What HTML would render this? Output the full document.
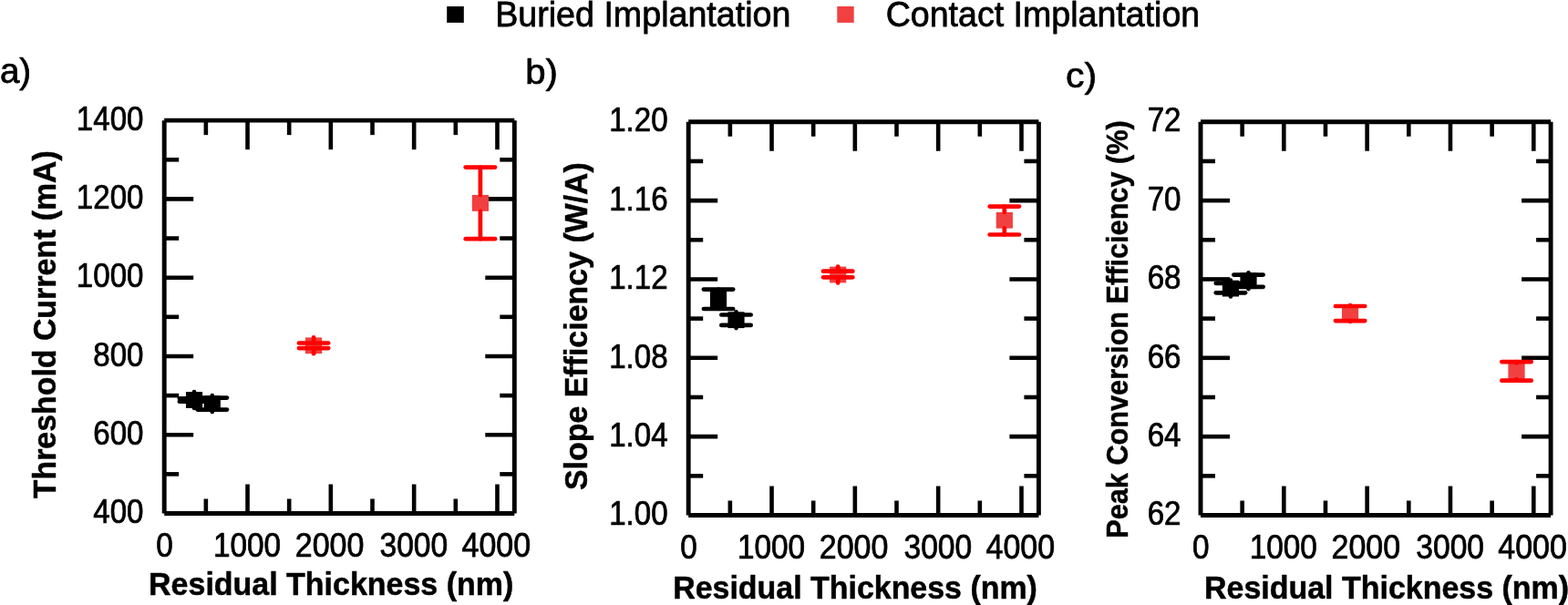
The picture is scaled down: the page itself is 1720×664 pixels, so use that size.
<!DOCTYPE html>
<html lang="en">
<head>
<meta charset="utf-8">
<title>Residual Thickness figure</title>
<style>
html,body{margin:0;padding:0;background:#fff;}
body{width:1720px;height:664px;overflow:hidden;}
svg{display:block;}
svg text{font-family:"Liberation Sans", sans-serif;white-space:pre;}
</style>
</head>
<body>
<svg width="1720" height="664" viewBox="0 0 1720 664">
<rect width="1720" height="664" fill="#fff"/>
<g>
<line x1="271.52" y1="563.50" x2="271.52" y2="531.50" stroke="#000" stroke-width="4.6" stroke-linecap="butt"/>
<line x1="271.52" y1="132.15" x2="271.52" y2="164.15" stroke="#000" stroke-width="4.6" stroke-linecap="butt"/>
<line x1="362.84" y1="563.50" x2="362.84" y2="531.50" stroke="#000" stroke-width="4.6" stroke-linecap="butt"/>
<line x1="362.84" y1="132.15" x2="362.84" y2="164.15" stroke="#000" stroke-width="4.6" stroke-linecap="butt"/>
<line x1="454.16" y1="563.50" x2="454.16" y2="531.50" stroke="#000" stroke-width="4.6" stroke-linecap="butt"/>
<line x1="454.16" y1="132.15" x2="454.16" y2="164.15" stroke="#000" stroke-width="4.6" stroke-linecap="butt"/>
<line x1="545.48" y1="563.50" x2="545.48" y2="531.50" stroke="#000" stroke-width="4.6" stroke-linecap="butt"/>
<line x1="545.48" y1="132.15" x2="545.48" y2="164.15" stroke="#000" stroke-width="4.6" stroke-linecap="butt"/>
<line x1="225.86" y1="563.50" x2="225.86" y2="547.50" stroke="#000" stroke-width="4.6" stroke-linecap="butt"/>
<line x1="225.86" y1="132.15" x2="225.86" y2="148.15" stroke="#000" stroke-width="4.6" stroke-linecap="butt"/>
<line x1="317.18" y1="563.50" x2="317.18" y2="547.50" stroke="#000" stroke-width="4.6" stroke-linecap="butt"/>
<line x1="317.18" y1="132.15" x2="317.18" y2="148.15" stroke="#000" stroke-width="4.6" stroke-linecap="butt"/>
<line x1="408.50" y1="563.50" x2="408.50" y2="547.50" stroke="#000" stroke-width="4.6" stroke-linecap="butt"/>
<line x1="408.50" y1="132.15" x2="408.50" y2="148.15" stroke="#000" stroke-width="4.6" stroke-linecap="butt"/>
<line x1="499.82" y1="563.50" x2="499.82" y2="547.50" stroke="#000" stroke-width="4.6" stroke-linecap="butt"/>
<line x1="499.82" y1="132.15" x2="499.82" y2="148.15" stroke="#000" stroke-width="4.6" stroke-linecap="butt"/>
<line x1="180.20" y1="477.23" x2="212.20" y2="477.23" stroke="#000" stroke-width="4.6" stroke-linecap="butt"/>
<line x1="564.30" y1="477.23" x2="532.30" y2="477.23" stroke="#000" stroke-width="4.6" stroke-linecap="butt"/>
<line x1="180.20" y1="390.96" x2="212.20" y2="390.96" stroke="#000" stroke-width="4.6" stroke-linecap="butt"/>
<line x1="564.30" y1="390.96" x2="532.30" y2="390.96" stroke="#000" stroke-width="4.6" stroke-linecap="butt"/>
<line x1="180.20" y1="304.69" x2="212.20" y2="304.69" stroke="#000" stroke-width="4.6" stroke-linecap="butt"/>
<line x1="564.30" y1="304.69" x2="532.30" y2="304.69" stroke="#000" stroke-width="4.6" stroke-linecap="butt"/>
<line x1="180.20" y1="218.42" x2="212.20" y2="218.42" stroke="#000" stroke-width="4.6" stroke-linecap="butt"/>
<line x1="564.30" y1="218.42" x2="532.30" y2="218.42" stroke="#000" stroke-width="4.6" stroke-linecap="butt"/>
<line x1="180.20" y1="520.37" x2="196.20" y2="520.37" stroke="#000" stroke-width="4.6" stroke-linecap="butt"/>
<line x1="564.30" y1="520.37" x2="548.30" y2="520.37" stroke="#000" stroke-width="4.6" stroke-linecap="butt"/>
<line x1="180.20" y1="434.10" x2="196.20" y2="434.10" stroke="#000" stroke-width="4.6" stroke-linecap="butt"/>
<line x1="564.30" y1="434.10" x2="548.30" y2="434.10" stroke="#000" stroke-width="4.6" stroke-linecap="butt"/>
<line x1="180.20" y1="347.82" x2="196.20" y2="347.82" stroke="#000" stroke-width="4.6" stroke-linecap="butt"/>
<line x1="564.30" y1="347.82" x2="548.30" y2="347.82" stroke="#000" stroke-width="4.6" stroke-linecap="butt"/>
<line x1="180.20" y1="261.56" x2="196.20" y2="261.56" stroke="#000" stroke-width="4.6" stroke-linecap="butt"/>
<line x1="564.30" y1="261.56" x2="548.30" y2="261.56" stroke="#000" stroke-width="4.6" stroke-linecap="butt"/>
<line x1="180.20" y1="175.28" x2="196.20" y2="175.28" stroke="#000" stroke-width="4.6" stroke-linecap="butt"/>
<line x1="564.30" y1="175.28" x2="548.30" y2="175.28" stroke="#000" stroke-width="4.6" stroke-linecap="butt"/>
<line x1="180.20" y1="132.15" x2="564.30" y2="132.15" stroke="#000" stroke-width="4.9" stroke-linecap="butt"/>
<line x1="180.20" y1="563.50" x2="564.30" y2="563.50" stroke="#000" stroke-width="4.9" stroke-linecap="butt"/>
<line x1="180.20" y1="132.15" x2="180.20" y2="563.50" stroke="#000" stroke-width="4.9" stroke-linecap="butt"/>
<line x1="564.30" y1="132.15" x2="564.30" y2="563.50" stroke="#000" stroke-width="4.9" stroke-linecap="butt"/>
<rect x="203.93" y="430.10" width="18.20" height="17.80" fill="#000"/>
<line x1="213.03" y1="430.10" x2="213.03" y2="437.25" stroke="#000" stroke-width="4.7" stroke-linecap="round"/>
<line x1="196.88" y1="437.25" x2="229.18" y2="437.25" stroke="#000" stroke-width="4.7" stroke-linecap="round"/>
<line x1="213.03" y1="447.90" x2="213.03" y2="440.75" stroke="#000" stroke-width="4.7" stroke-linecap="round"/>
<line x1="196.88" y1="440.75" x2="229.18" y2="440.75" stroke="#000" stroke-width="4.7" stroke-linecap="round"/>
<rect x="223.68" y="434.20" width="18.20" height="17.80" fill="#000"/>
<line x1="232.78" y1="434.20" x2="232.78" y2="436.60" stroke="#000" stroke-width="4.7" stroke-linecap="round"/>
<line x1="216.63" y1="436.60" x2="248.93" y2="436.60" stroke="#000" stroke-width="4.7" stroke-linecap="round"/>
<line x1="232.78" y1="452.00" x2="232.78" y2="449.60" stroke="#000" stroke-width="4.7" stroke-linecap="round"/>
<line x1="216.63" y1="449.60" x2="248.93" y2="449.60" stroke="#000" stroke-width="4.7" stroke-linecap="round"/>
<rect x="334.98" y="370.40" width="18.20" height="17.80" fill="#f14040"/>
<line x1="344.08" y1="370.40" x2="344.08" y2="376.50" stroke="#ff0000" stroke-width="4.7" stroke-linecap="round"/>
<line x1="327.93" y1="376.50" x2="360.23" y2="376.50" stroke="#ff0000" stroke-width="4.7" stroke-linecap="round"/>
<line x1="344.08" y1="388.20" x2="344.08" y2="382.10" stroke="#ff0000" stroke-width="4.7" stroke-linecap="round"/>
<line x1="327.93" y1="382.10" x2="360.23" y2="382.10" stroke="#ff0000" stroke-width="4.7" stroke-linecap="round"/>
<rect x="517.80" y="214.00" width="18.20" height="17.80" fill="#f14040"/>
<line x1="526.90" y1="214.00" x2="526.90" y2="183.60" stroke="#ff0000" stroke-width="4.7" stroke-linecap="round"/>
<line x1="510.75" y1="183.60" x2="543.05" y2="183.60" stroke="#ff0000" stroke-width="4.7" stroke-linecap="round"/>
<line x1="526.90" y1="231.80" x2="526.90" y2="262.20" stroke="#ff0000" stroke-width="4.7" stroke-linecap="round"/>
<line x1="510.75" y1="262.20" x2="543.05" y2="262.20" stroke="#ff0000" stroke-width="4.7" stroke-linecap="round"/>
<line x1="846.52" y1="565.50" x2="846.52" y2="533.50" stroke="#000" stroke-width="4.6" stroke-linecap="butt"/>
<line x1="846.52" y1="133.75" x2="846.52" y2="165.75" stroke="#000" stroke-width="4.6" stroke-linecap="butt"/>
<line x1="937.84" y1="565.50" x2="937.84" y2="533.50" stroke="#000" stroke-width="4.6" stroke-linecap="butt"/>
<line x1="937.84" y1="133.75" x2="937.84" y2="165.75" stroke="#000" stroke-width="4.6" stroke-linecap="butt"/>
<line x1="1029.16" y1="565.50" x2="1029.16" y2="533.50" stroke="#000" stroke-width="4.6" stroke-linecap="butt"/>
<line x1="1029.16" y1="133.75" x2="1029.16" y2="165.75" stroke="#000" stroke-width="4.6" stroke-linecap="butt"/>
<line x1="1120.48" y1="565.50" x2="1120.48" y2="533.50" stroke="#000" stroke-width="4.6" stroke-linecap="butt"/>
<line x1="1120.48" y1="133.75" x2="1120.48" y2="165.75" stroke="#000" stroke-width="4.6" stroke-linecap="butt"/>
<line x1="800.86" y1="565.50" x2="800.86" y2="549.50" stroke="#000" stroke-width="4.6" stroke-linecap="butt"/>
<line x1="800.86" y1="133.75" x2="800.86" y2="149.75" stroke="#000" stroke-width="4.6" stroke-linecap="butt"/>
<line x1="892.18" y1="565.50" x2="892.18" y2="549.50" stroke="#000" stroke-width="4.6" stroke-linecap="butt"/>
<line x1="892.18" y1="133.75" x2="892.18" y2="149.75" stroke="#000" stroke-width="4.6" stroke-linecap="butt"/>
<line x1="983.50" y1="565.50" x2="983.50" y2="549.50" stroke="#000" stroke-width="4.6" stroke-linecap="butt"/>
<line x1="983.50" y1="133.75" x2="983.50" y2="149.75" stroke="#000" stroke-width="4.6" stroke-linecap="butt"/>
<line x1="1074.82" y1="565.50" x2="1074.82" y2="549.50" stroke="#000" stroke-width="4.6" stroke-linecap="butt"/>
<line x1="1074.82" y1="133.75" x2="1074.82" y2="149.75" stroke="#000" stroke-width="4.6" stroke-linecap="butt"/>
<line x1="755.20" y1="479.15" x2="787.20" y2="479.15" stroke="#000" stroke-width="4.6" stroke-linecap="butt"/>
<line x1="1139.40" y1="479.15" x2="1107.40" y2="479.15" stroke="#000" stroke-width="4.6" stroke-linecap="butt"/>
<line x1="755.20" y1="392.80" x2="787.20" y2="392.80" stroke="#000" stroke-width="4.6" stroke-linecap="butt"/>
<line x1="1139.40" y1="392.80" x2="1107.40" y2="392.80" stroke="#000" stroke-width="4.6" stroke-linecap="butt"/>
<line x1="755.20" y1="306.45" x2="787.20" y2="306.45" stroke="#000" stroke-width="4.6" stroke-linecap="butt"/>
<line x1="1139.40" y1="306.45" x2="1107.40" y2="306.45" stroke="#000" stroke-width="4.6" stroke-linecap="butt"/>
<line x1="755.20" y1="220.10" x2="787.20" y2="220.10" stroke="#000" stroke-width="4.6" stroke-linecap="butt"/>
<line x1="1139.40" y1="220.10" x2="1107.40" y2="220.10" stroke="#000" stroke-width="4.6" stroke-linecap="butt"/>
<line x1="755.20" y1="522.32" x2="771.20" y2="522.32" stroke="#000" stroke-width="4.6" stroke-linecap="butt"/>
<line x1="1139.40" y1="522.32" x2="1123.40" y2="522.32" stroke="#000" stroke-width="4.6" stroke-linecap="butt"/>
<line x1="755.20" y1="435.97" x2="771.20" y2="435.97" stroke="#000" stroke-width="4.6" stroke-linecap="butt"/>
<line x1="1139.40" y1="435.97" x2="1123.40" y2="435.97" stroke="#000" stroke-width="4.6" stroke-linecap="butt"/>
<line x1="755.20" y1="349.62" x2="771.20" y2="349.62" stroke="#000" stroke-width="4.6" stroke-linecap="butt"/>
<line x1="1139.40" y1="349.62" x2="1123.40" y2="349.62" stroke="#000" stroke-width="4.6" stroke-linecap="butt"/>
<line x1="755.20" y1="263.28" x2="771.20" y2="263.28" stroke="#000" stroke-width="4.6" stroke-linecap="butt"/>
<line x1="1139.40" y1="263.28" x2="1123.40" y2="263.28" stroke="#000" stroke-width="4.6" stroke-linecap="butt"/>
<line x1="755.20" y1="176.93" x2="771.20" y2="176.93" stroke="#000" stroke-width="4.6" stroke-linecap="butt"/>
<line x1="1139.40" y1="176.93" x2="1123.40" y2="176.93" stroke="#000" stroke-width="4.6" stroke-linecap="butt"/>
<line x1="755.20" y1="133.75" x2="1139.40" y2="133.75" stroke="#000" stroke-width="4.9" stroke-linecap="butt"/>
<line x1="755.20" y1="565.50" x2="1139.40" y2="565.50" stroke="#000" stroke-width="4.9" stroke-linecap="butt"/>
<line x1="755.20" y1="133.75" x2="755.20" y2="565.50" stroke="#000" stroke-width="4.9" stroke-linecap="butt"/>
<line x1="1139.40" y1="133.75" x2="1139.40" y2="565.50" stroke="#000" stroke-width="4.9" stroke-linecap="butt"/>
<rect x="778.93" y="319.40" width="18.20" height="17.80" fill="#000"/>
<line x1="788.03" y1="319.40" x2="788.03" y2="317.60" stroke="#000" stroke-width="4.7" stroke-linecap="round"/>
<line x1="771.88" y1="317.60" x2="804.18" y2="317.60" stroke="#000" stroke-width="4.7" stroke-linecap="round"/>
<line x1="788.03" y1="337.20" x2="788.03" y2="339.00" stroke="#000" stroke-width="4.7" stroke-linecap="round"/>
<line x1="771.88" y1="339.00" x2="804.18" y2="339.00" stroke="#000" stroke-width="4.7" stroke-linecap="round"/>
<rect x="798.41" y="342.30" width="18.20" height="17.80" fill="#000"/>
<line x1="807.51" y1="342.30" x2="807.51" y2="345.50" stroke="#000" stroke-width="4.7" stroke-linecap="round"/>
<line x1="791.36" y1="345.50" x2="823.66" y2="345.50" stroke="#000" stroke-width="4.7" stroke-linecap="round"/>
<line x1="807.51" y1="360.10" x2="807.51" y2="356.90" stroke="#000" stroke-width="4.7" stroke-linecap="round"/>
<line x1="791.36" y1="356.90" x2="823.66" y2="356.90" stroke="#000" stroke-width="4.7" stroke-linecap="round"/>
<rect x="910.07" y="292.60" width="18.20" height="17.80" fill="#f14040"/>
<line x1="919.17" y1="292.60" x2="919.17" y2="297.70" stroke="#ff0000" stroke-width="4.7" stroke-linecap="round"/>
<line x1="903.02" y1="297.70" x2="935.32" y2="297.70" stroke="#ff0000" stroke-width="4.7" stroke-linecap="round"/>
<line x1="919.17" y1="310.40" x2="919.17" y2="304.30" stroke="#ff0000" stroke-width="4.7" stroke-linecap="round"/>
<line x1="903.02" y1="304.30" x2="935.32" y2="304.30" stroke="#ff0000" stroke-width="4.7" stroke-linecap="round"/>
<rect x="1092.71" y="232.85" width="18.20" height="17.80" fill="#f14040"/>
<line x1="1101.81" y1="232.85" x2="1101.81" y2="226.60" stroke="#ff0000" stroke-width="4.7" stroke-linecap="round"/>
<line x1="1085.66" y1="226.60" x2="1117.96" y2="226.60" stroke="#ff0000" stroke-width="4.7" stroke-linecap="round"/>
<line x1="1101.81" y1="250.65" x2="1101.81" y2="257.50" stroke="#ff0000" stroke-width="4.7" stroke-linecap="round"/>
<line x1="1085.66" y1="257.50" x2="1117.96" y2="257.50" stroke="#ff0000" stroke-width="4.7" stroke-linecap="round"/>
<line x1="1408.32" y1="565.50" x2="1408.32" y2="533.50" stroke="#000" stroke-width="4.6" stroke-linecap="butt"/>
<line x1="1408.32" y1="133.75" x2="1408.32" y2="165.75" stroke="#000" stroke-width="4.6" stroke-linecap="butt"/>
<line x1="1499.64" y1="565.50" x2="1499.64" y2="533.50" stroke="#000" stroke-width="4.6" stroke-linecap="butt"/>
<line x1="1499.64" y1="133.75" x2="1499.64" y2="165.75" stroke="#000" stroke-width="4.6" stroke-linecap="butt"/>
<line x1="1590.96" y1="565.50" x2="1590.96" y2="533.50" stroke="#000" stroke-width="4.6" stroke-linecap="butt"/>
<line x1="1590.96" y1="133.75" x2="1590.96" y2="165.75" stroke="#000" stroke-width="4.6" stroke-linecap="butt"/>
<line x1="1682.28" y1="565.50" x2="1682.28" y2="533.50" stroke="#000" stroke-width="4.6" stroke-linecap="butt"/>
<line x1="1682.28" y1="133.75" x2="1682.28" y2="165.75" stroke="#000" stroke-width="4.6" stroke-linecap="butt"/>
<line x1="1362.66" y1="565.50" x2="1362.66" y2="549.50" stroke="#000" stroke-width="4.6" stroke-linecap="butt"/>
<line x1="1362.66" y1="133.75" x2="1362.66" y2="149.75" stroke="#000" stroke-width="4.6" stroke-linecap="butt"/>
<line x1="1453.98" y1="565.50" x2="1453.98" y2="549.50" stroke="#000" stroke-width="4.6" stroke-linecap="butt"/>
<line x1="1453.98" y1="133.75" x2="1453.98" y2="149.75" stroke="#000" stroke-width="4.6" stroke-linecap="butt"/>
<line x1="1545.30" y1="565.50" x2="1545.30" y2="549.50" stroke="#000" stroke-width="4.6" stroke-linecap="butt"/>
<line x1="1545.30" y1="133.75" x2="1545.30" y2="149.75" stroke="#000" stroke-width="4.6" stroke-linecap="butt"/>
<line x1="1636.62" y1="565.50" x2="1636.62" y2="549.50" stroke="#000" stroke-width="4.6" stroke-linecap="butt"/>
<line x1="1636.62" y1="133.75" x2="1636.62" y2="149.75" stroke="#000" stroke-width="4.6" stroke-linecap="butt"/>
<line x1="1317.00" y1="479.15" x2="1349.00" y2="479.15" stroke="#000" stroke-width="4.6" stroke-linecap="butt"/>
<line x1="1701.10" y1="479.15" x2="1669.10" y2="479.15" stroke="#000" stroke-width="4.6" stroke-linecap="butt"/>
<line x1="1317.00" y1="392.80" x2="1349.00" y2="392.80" stroke="#000" stroke-width="4.6" stroke-linecap="butt"/>
<line x1="1701.10" y1="392.80" x2="1669.10" y2="392.80" stroke="#000" stroke-width="4.6" stroke-linecap="butt"/>
<line x1="1317.00" y1="306.45" x2="1349.00" y2="306.45" stroke="#000" stroke-width="4.6" stroke-linecap="butt"/>
<line x1="1701.10" y1="306.45" x2="1669.10" y2="306.45" stroke="#000" stroke-width="4.6" stroke-linecap="butt"/>
<line x1="1317.00" y1="220.10" x2="1349.00" y2="220.10" stroke="#000" stroke-width="4.6" stroke-linecap="butt"/>
<line x1="1701.10" y1="220.10" x2="1669.10" y2="220.10" stroke="#000" stroke-width="4.6" stroke-linecap="butt"/>
<line x1="1317.00" y1="522.33" x2="1333.00" y2="522.33" stroke="#000" stroke-width="4.6" stroke-linecap="butt"/>
<line x1="1701.10" y1="522.33" x2="1685.10" y2="522.33" stroke="#000" stroke-width="4.6" stroke-linecap="butt"/>
<line x1="1317.00" y1="435.98" x2="1333.00" y2="435.98" stroke="#000" stroke-width="4.6" stroke-linecap="butt"/>
<line x1="1701.10" y1="435.98" x2="1685.10" y2="435.98" stroke="#000" stroke-width="4.6" stroke-linecap="butt"/>
<line x1="1317.00" y1="349.62" x2="1333.00" y2="349.62" stroke="#000" stroke-width="4.6" stroke-linecap="butt"/>
<line x1="1701.10" y1="349.62" x2="1685.10" y2="349.62" stroke="#000" stroke-width="4.6" stroke-linecap="butt"/>
<line x1="1317.00" y1="263.28" x2="1333.00" y2="263.28" stroke="#000" stroke-width="4.6" stroke-linecap="butt"/>
<line x1="1701.10" y1="263.28" x2="1685.10" y2="263.28" stroke="#000" stroke-width="4.6" stroke-linecap="butt"/>
<line x1="1317.00" y1="176.93" x2="1333.00" y2="176.93" stroke="#000" stroke-width="4.6" stroke-linecap="butt"/>
<line x1="1701.10" y1="176.93" x2="1685.10" y2="176.93" stroke="#000" stroke-width="4.6" stroke-linecap="butt"/>
<line x1="1317.00" y1="133.75" x2="1701.10" y2="133.75" stroke="#000" stroke-width="4.9" stroke-linecap="butt"/>
<line x1="1317.00" y1="565.50" x2="1701.10" y2="565.50" stroke="#000" stroke-width="4.9" stroke-linecap="butt"/>
<line x1="1317.00" y1="133.75" x2="1317.00" y2="565.50" stroke="#000" stroke-width="4.9" stroke-linecap="butt"/>
<line x1="1701.10" y1="133.75" x2="1701.10" y2="565.50" stroke="#000" stroke-width="4.9" stroke-linecap="butt"/>
<rect x="1340.82" y="307.70" width="18.20" height="17.80" fill="#000"/>
<line x1="1349.92" y1="307.70" x2="1349.92" y2="310.90" stroke="#000" stroke-width="4.7" stroke-linecap="round"/>
<line x1="1333.77" y1="310.90" x2="1366.07" y2="310.90" stroke="#000" stroke-width="4.7" stroke-linecap="round"/>
<line x1="1349.92" y1="325.50" x2="1349.92" y2="321.30" stroke="#000" stroke-width="4.7" stroke-linecap="round"/>
<line x1="1333.77" y1="321.30" x2="1366.07" y2="321.30" stroke="#000" stroke-width="4.7" stroke-linecap="round"/>
<rect x="1360.39" y="299.30" width="18.20" height="17.80" fill="#000"/>
<line x1="1369.49" y1="299.30" x2="1369.49" y2="301.60" stroke="#000" stroke-width="4.7" stroke-linecap="round"/>
<line x1="1353.34" y1="301.60" x2="1385.64" y2="301.60" stroke="#000" stroke-width="4.7" stroke-linecap="round"/>
<line x1="1369.49" y1="317.10" x2="1369.49" y2="314.80" stroke="#000" stroke-width="4.7" stroke-linecap="round"/>
<line x1="1353.34" y1="314.80" x2="1385.64" y2="314.80" stroke="#000" stroke-width="4.7" stroke-linecap="round"/>
<rect x="1471.97" y="335.15" width="18.20" height="17.80" fill="#f14040"/>
<line x1="1481.07" y1="335.15" x2="1481.07" y2="336.00" stroke="#ff0000" stroke-width="4.7" stroke-linecap="round"/>
<line x1="1464.92" y1="336.00" x2="1497.22" y2="336.00" stroke="#ff0000" stroke-width="4.7" stroke-linecap="round"/>
<line x1="1481.07" y1="352.95" x2="1481.07" y2="352.10" stroke="#ff0000" stroke-width="4.7" stroke-linecap="round"/>
<line x1="1464.92" y1="352.10" x2="1497.22" y2="352.10" stroke="#ff0000" stroke-width="4.7" stroke-linecap="round"/>
<rect x="1654.41" y="398.50" width="18.20" height="17.80" fill="#f14040"/>
<line x1="1663.51" y1="398.50" x2="1663.51" y2="397.10" stroke="#ff0000" stroke-width="4.7" stroke-linecap="round"/>
<line x1="1647.36" y1="397.10" x2="1679.66" y2="397.10" stroke="#ff0000" stroke-width="4.7" stroke-linecap="round"/>
<line x1="1663.51" y1="416.30" x2="1663.51" y2="417.70" stroke="#ff0000" stroke-width="4.7" stroke-linecap="round"/>
<line x1="1647.36" y1="417.70" x2="1679.66" y2="417.70" stroke="#ff0000" stroke-width="4.7" stroke-linecap="round"/>
<rect x="490.20" y="7.00" width="18.60" height="17.90" fill="#000"/>
<rect x="918.30" y="7.00" width="18.40" height="17.90" fill="#f14040"/>
</g>
<g>
<text transform="translate(102.25,574.20) scale(0.8950,1)" font-size="37.0" fill="#000" stroke="#000" stroke-width="0.75" stroke-linejoin="round">400</text>
<text transform="translate(102.25,487.93) scale(0.8950,1)" font-size="37.0" fill="#000" stroke="#000" stroke-width="0.75" stroke-linejoin="round">600</text>
<text transform="translate(102.25,401.66) scale(0.8950,1)" font-size="37.0" fill="#000" stroke="#000" stroke-width="0.75" stroke-linejoin="round">800</text>
<text transform="translate(83.83,315.39) scale(0.8950,1)" font-size="37.0" fill="#000" stroke="#000" stroke-width="0.75" stroke-linejoin="round">1000</text>
<text transform="translate(83.83,229.12) scale(0.8950,1)" font-size="37.0" fill="#000" stroke="#000" stroke-width="0.75" stroke-linejoin="round">1200</text>
<text transform="translate(83.83,142.85) scale(0.8950,1)" font-size="37.0" fill="#000" stroke="#000" stroke-width="0.75" stroke-linejoin="round">1400</text>
<text transform="translate(171.24,610.80) scale(0.9004,1)" font-size="37.0" fill="#000" stroke="#000" stroke-width="0.75" stroke-linejoin="round">0</text>
<text transform="translate(233.90,610.80) scale(0.9023,1)" font-size="37.0" fill="#000" stroke="#000" stroke-width="0.75" stroke-linejoin="round">1000</text>
<text transform="translate(323.73,610.80) scale(0.9191,1)" font-size="37.0" fill="#000" stroke="#000" stroke-width="0.75" stroke-linejoin="round">2000</text>
<text transform="translate(416.46,610.80) scale(0.9089,1)" font-size="37.0" fill="#000" stroke="#000" stroke-width="0.75" stroke-linejoin="round">3000</text>
<text transform="translate(506.46,610.80) scale(0.9199,1)" font-size="37.0" fill="#000" stroke="#000" stroke-width="0.75" stroke-linejoin="round">4000</text>
<text transform="translate(668.15,576.20) scale(0.8950,1)" font-size="37.0" fill="#000" stroke="#000" stroke-width="0.75" stroke-linejoin="round">1.00</text>
<text transform="translate(668.15,489.85) scale(0.8950,1)" font-size="37.0" fill="#000" stroke="#000" stroke-width="0.75" stroke-linejoin="round">1.04</text>
<text transform="translate(668.15,403.50) scale(0.8950,1)" font-size="37.0" fill="#000" stroke="#000" stroke-width="0.75" stroke-linejoin="round">1.08</text>
<text transform="translate(668.15,317.15) scale(0.8950,1)" font-size="37.0" fill="#000" stroke="#000" stroke-width="0.75" stroke-linejoin="round">1.12</text>
<text transform="translate(668.15,230.80) scale(0.8950,1)" font-size="37.0" fill="#000" stroke="#000" stroke-width="0.75" stroke-linejoin="round">1.16</text>
<text transform="translate(668.15,144.45) scale(0.8950,1)" font-size="37.0" fill="#000" stroke="#000" stroke-width="0.75" stroke-linejoin="round">1.20</text>
<text transform="translate(746.24,612.50) scale(0.9004,1)" font-size="37.0" fill="#000" stroke="#000" stroke-width="0.75" stroke-linejoin="round">0</text>
<text transform="translate(808.90,612.50) scale(0.9023,1)" font-size="37.0" fill="#000" stroke="#000" stroke-width="0.75" stroke-linejoin="round">1000</text>
<text transform="translate(898.73,612.50) scale(0.9191,1)" font-size="37.0" fill="#000" stroke="#000" stroke-width="0.75" stroke-linejoin="round">2000</text>
<text transform="translate(991.46,612.50) scale(0.9089,1)" font-size="37.0" fill="#000" stroke="#000" stroke-width="0.75" stroke-linejoin="round">3000</text>
<text transform="translate(1081.46,612.50) scale(0.9199,1)" font-size="37.0" fill="#000" stroke="#000" stroke-width="0.75" stroke-linejoin="round">4000</text>
<text transform="translate(1258.67,576.20) scale(0.8950,1)" font-size="37.0" fill="#000" stroke="#000" stroke-width="0.75" stroke-linejoin="round">62</text>
<text transform="translate(1258.67,489.85) scale(0.8950,1)" font-size="37.0" fill="#000" stroke="#000" stroke-width="0.75" stroke-linejoin="round">64</text>
<text transform="translate(1258.67,403.50) scale(0.8950,1)" font-size="37.0" fill="#000" stroke="#000" stroke-width="0.75" stroke-linejoin="round">66</text>
<text transform="translate(1258.67,317.15) scale(0.8950,1)" font-size="37.0" fill="#000" stroke="#000" stroke-width="0.75" stroke-linejoin="round">68</text>
<text transform="translate(1258.67,230.80) scale(0.8950,1)" font-size="37.0" fill="#000" stroke="#000" stroke-width="0.75" stroke-linejoin="round">70</text>
<text transform="translate(1258.67,144.45) scale(0.8950,1)" font-size="37.0" fill="#000" stroke="#000" stroke-width="0.75" stroke-linejoin="round">72</text>
<text transform="translate(1308.04,612.50) scale(0.9004,1)" font-size="37.0" fill="#000" stroke="#000" stroke-width="0.75" stroke-linejoin="round">0</text>
<text transform="translate(1370.70,612.50) scale(0.9023,1)" font-size="37.0" fill="#000" stroke="#000" stroke-width="0.75" stroke-linejoin="round">1000</text>
<text transform="translate(1460.53,612.50) scale(0.9191,1)" font-size="37.0" fill="#000" stroke="#000" stroke-width="0.75" stroke-linejoin="round">2000</text>
<text transform="translate(1553.26,612.50) scale(0.9089,1)" font-size="37.0" fill="#000" stroke="#000" stroke-width="0.75" stroke-linejoin="round">3000</text>
<text transform="translate(1643.26,612.50) scale(0.9199,1)" font-size="37.0" fill="#000" stroke="#000" stroke-width="0.75" stroke-linejoin="round">4000</text>
<text transform="translate(543.18,29.20) scale(0.9729,1)" font-size="38.7" fill="#000" stroke="#000" stroke-width="0.75" stroke-linejoin="round">Buried Implantation</text>
<text transform="translate(971.66,29.20) scale(0.9712,1)" font-size="38.7" fill="#000" stroke="#000" stroke-width="0.75" stroke-linejoin="round">Contact Implantation</text>
<text transform="translate(-0.12,91.30) scale(1.0000,1)" font-size="38.5" fill="#000" stroke="#000" stroke-width="0.75" stroke-linejoin="round">a)</text>
<text transform="translate(576.30,91.90) scale(1.0427,1)" font-size="38.5" fill="#000" stroke="#000" stroke-width="0.75" stroke-linejoin="round">b)</text>
<text transform="translate(1169.06,96.20) scale(1.0626,1)" font-size="38.5" fill="#000" stroke="#000" stroke-width="0.75" stroke-linejoin="round">c)</text>
<text transform="translate(163.07,653.00) scale(0.9655,1)" font-size="35.2" font-weight="bold" fill="#000" stroke="#000" stroke-width="0.5" stroke-linejoin="round">Residual Thickness (nm)</text>
<text transform="translate(738.17,657.00) scale(0.9643,1)" font-size="35.2" font-weight="bold" fill="#000" stroke="#000" stroke-width="0.5" stroke-linejoin="round">Residual Thickness (nm)</text>
<text transform="translate(1320.97,657.00) scale(0.9655,1)" font-size="35.2" font-weight="bold" fill="#000" stroke="#000" stroke-width="0.5" stroke-linejoin="round">Residual Thickness (nm)</text>
<text transform="translate(61.30,547.24) rotate(-90) scale(0.9605,1)" font-size="35.3" font-weight="bold" fill="#000" stroke="#000" stroke-width="0.5" stroke-linejoin="round">Threshold Current (mA)</text>
<text transform="translate(643.70,538.04) rotate(-90) scale(0.9612,1)" font-size="35.3" font-weight="bold" fill="#000" stroke="#000" stroke-width="0.5" stroke-linejoin="round">Slope Efficiency (W/A)</text>
<text transform="translate(1237.40,590.72) rotate(-90) scale(0.9349,1)" font-size="32.8" font-weight="bold" fill="#000" stroke="#000" stroke-width="0.5" stroke-linejoin="round">Peak Conversion Efficiency (%)</text>
</g>
</svg>
</body>
</html>
